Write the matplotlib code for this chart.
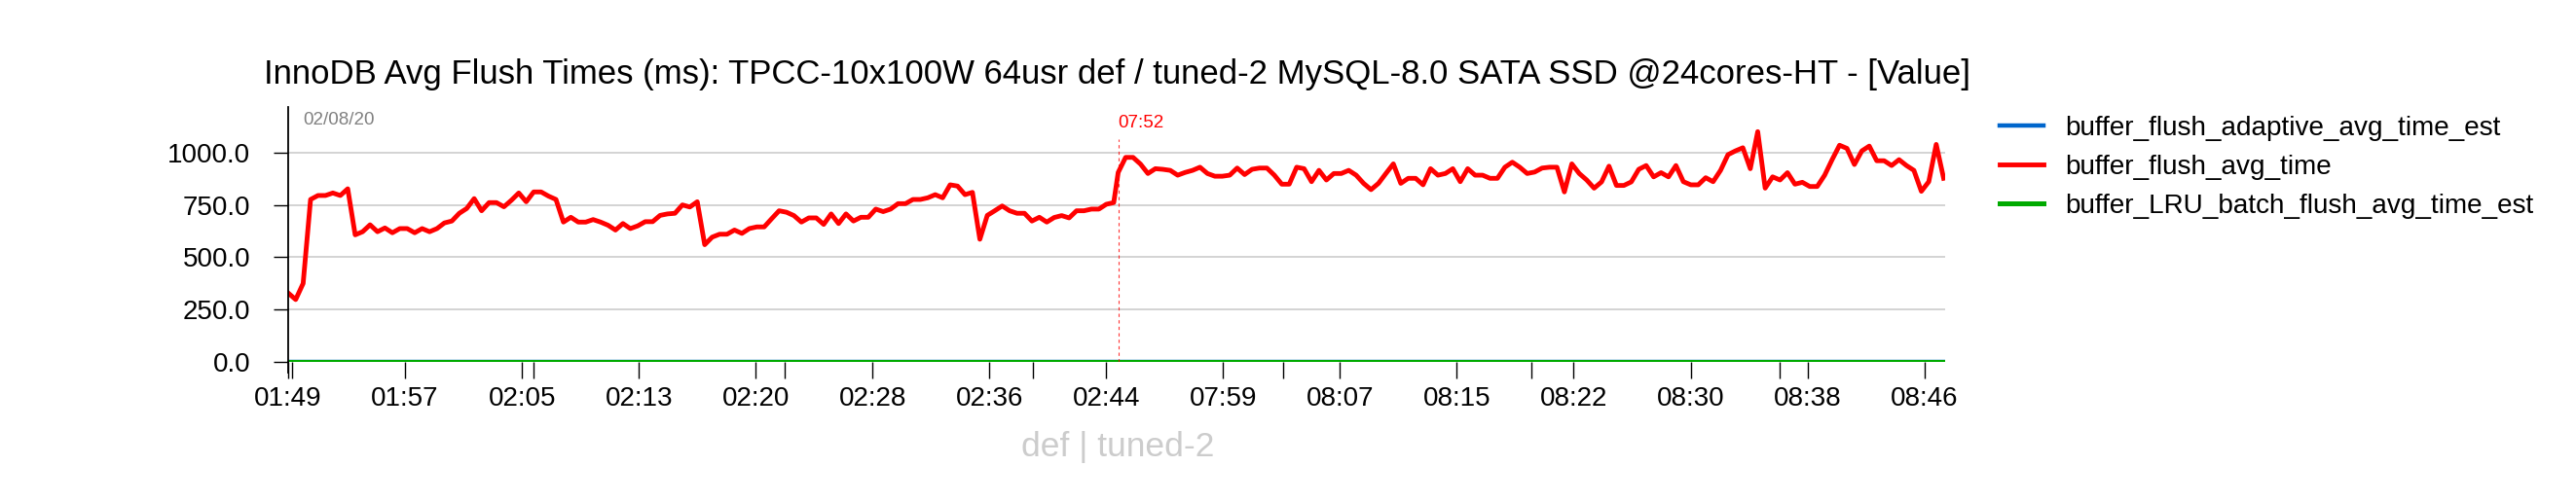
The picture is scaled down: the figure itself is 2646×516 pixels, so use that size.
import numpy as np
import matplotlib
matplotlib.use("Agg")
import matplotlib.pyplot as plt

plt.rcParams["font.family"] = ["Liberation Sans", "DejaVu Sans"]

# --- data (ms), one sample every 30 s, two runs back to back ---
run1_avg_time = [
    329, 298, 375, 776, 795, 795, 807, 795, 827, 607,
    622, 655, 622, 640, 617, 637, 637, 617, 637, 622,
    637, 664, 673, 710, 733, 780, 722, 761, 761, 741,
    772, 807, 765, 812, 812, 792, 776, 668, 691, 668,
    668, 680, 668, 653, 630, 661, 637, 650, 670, 670,
    700, 707, 710, 750, 740, 765, 560, 596, 610, 610,
    630, 614, 637, 645, 645, 684, 722, 715, 699, 668,
    688, 688, 657, 707, 661, 707, 673, 691, 691, 730,
    718, 730, 756, 756, 776, 776, 784, 799, 784, 846,
    840, 799, 810, 586, 700, 722, 745, 722, 710, 710,
    673, 691, 668, 690, 699, 688, 722, 722, 730, 730,
    753, 761,
]
run2_avg_time = [
    905, 977, 977, 945, 900, 923, 920, 915, 892, 905,
    915, 930, 900, 887, 887, 892, 926, 895, 920, 926,
    926, 892, 849, 849, 930, 923, 861, 915, 869, 900,
    900, 915, 892, 853, 823, 853, 900, 946, 853, 877,
    877, 846, 923, 892, 900, 923, 861, 923, 892, 892,
    877, 877, 930, 954, 930, 900, 907, 926, 930, 930,
    812, 946, 900, 869, 830, 860, 935, 843, 843, 860,
    920, 938, 884, 904, 884, 938, 861, 846, 846, 880,
    861, 915, 990, 1008, 1023, 923, 1100, 830, 884, 869,
    904, 849, 858, 838, 838, 892, 966, 1035, 1020, 943,
    1008, 1031, 961, 961, 938, 966, 938, 915, 815, 861,
    1039, 877,
]
flush_avg_time = run1_avg_time + run2_avg_time
adaptive_avg_time_est = [0.0] * len(flush_avg_time)
lru_batch_avg_time_est = [0.0] * len(flush_avg_time)

tick_labels = ["01:49", "01:57", "02:05", "02:13", "02:20", "02:28", "02:36", "02:44",
               "07:59", "08:07", "08:15", "08:22", "08:30", "08:38", "08:46"]
series_names = ["buffer_flush_adaptive_avg_time_est", "buffer_flush_avg_time",
                "buffer_LRU_batch_flush_avg_time_est"]

# x axis: minutes on a compressed timeline (run 2 starts right after run 1)
STEP = 0.5
RUN1_SPAN = 55.8
x = np.concatenate([np.arange(len(run1_avg_time)) * STEP,
                    RUN1_SPAN + np.arange(len(run2_avg_time)) * STEP])

fig = plt.figure(figsize=(26.46, 5.16), dpi=100)
ax = fig.add_axes([0.1119, 0.279, 0.6432, 0.508])

ax.plot(x, adaptive_avg_time_est, color="#0066CC", lw=3.2, label=series_names[0])
ax.plot(x, flush_avg_time, color="#FF0000", lw=3.5, label=series_names[1])
ax.plot(x, lru_batch_avg_time_est, color="#00AA00", lw=3.6, label=series_names[2])

ax.set_xlim(0, 111.4)
ax.set_ylim(0, 1218)
ax.set_yticks([0, 250, 500, 750, 1000])
ax.set_yticklabels(["%.1f" % v for v in [0, 250, 500, 750, 1000]])
ax.set_xticks(np.arange(len(tick_labels)) * 7.857)
ax.set_xticklabels(tick_labels)
ax.set_xticks([0.25, 16.5, 33.4, 50.1, 66.9, 83.6, 100.3], minor=True)
ax.grid(axis="y", color="#CCCCCC", lw=1.2)
ax.set_axisbelow(True)

for s in ["top", "right", "bottom"]:
    ax.spines[s].set_visible(False)
ax.spines["left"].set_linewidth(1.3)
ax.plot([0, 0], [0, -0.04], transform=ax.transAxes, color="black", lw=1.3, clip_on=False)

ax.tick_params(axis="x", which="both", direction="out", length=12, width=1.0,
               labelsize=20, pad=6)
ax.tick_params(axis="y", direction="out", length=11, width=1.0, labelsize=20, pad=17)

# run separator
ax.axvline(RUN1_SPAN, ymax=0.875, color="#FF0000", lw=0.8, ls=(0, (3, 3)), alpha=0.8)
ax.text(RUN1_SPAN, 1140, "07:52", color="#FF0000", fontsize=13.5, ha="left", va="center")
ax.text(0.009, 0.95, "02/08/20", color="#808080", fontsize=13.5, ha="left", va="center",
        transform=ax.transAxes)

ax.set_title("InnoDB Avg Flush Times (ms): TPCC-10x100W 64usr def / tuned-2 MySQL-8.0 "
             "SATA SSD @24cores-HT - [Value]", fontsize=25, pad=17)
fig.text(1148 / 2646, 1 - 460 / 516, "def | tuned-2", color="#CCCCCC", fontsize=25.5,
         ha="center", va="center")

fig.legend(loc="upper left", bbox_to_anchor=(0.771, 0.796), frameon=False,
           fontsize=20.1, handlelength=1.6, handletextpad=0.8, labelspacing=0.5,
           borderpad=0)

fig.savefig("out.png", dpi=100)
